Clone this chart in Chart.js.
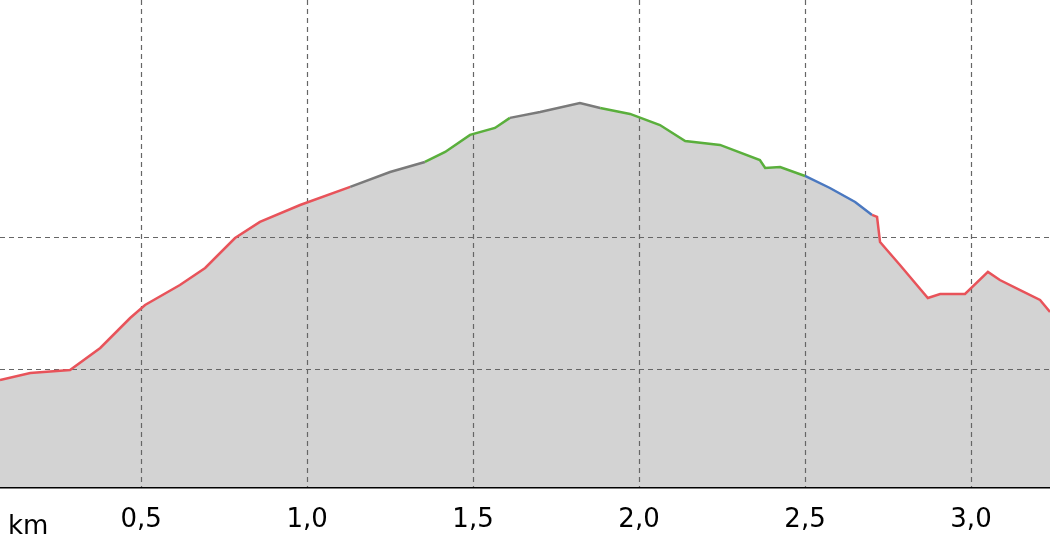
<!DOCTYPE html>
<html>
<head>
<meta charset="utf-8">
<script src="https://cdn.jsdelivr.net/npm/chart.js@4"></script>
<style>
  html, body { margin: 0; padding: 0; background: #fff; }
  #wrap { width: 1050px; height: 560px; }
</style>
</head>
<body>
<div id="wrap"><canvas id="chart"></canvas></div>
<script>
// distance (km) and elevation (relative units; grid lines at 10 and 20)
const distKm = [0.075, 0.166, 0.286, 0.377, 0.467, 0.512, 0.617, 0.693, 0.783, 0.858,
  0.979, 1.130, 1.250, 1.355, 1.416, 1.491, 1.566, 1.611, 1.702, 1.822,
  1.883, 1.973, 2.063, 2.139, 2.244, 2.364, 2.380, 2.425, 2.500, 2.575,
  2.651, 2.702, 2.717, 2.726, 2.786, 2.870, 2.907, 2.982, 3.051, 3.087,
  3.148, 3.208, 3.238];
const elev = [9.17, 9.70, 9.92, 11.59, 13.86, 14.85, 16.36, 17.65, 19.92, 21.14,
  22.42, 23.79, 24.92, 25.68, 26.44, 27.73, 28.26, 29.02, 29.47, 30.15,
  29.77, 29.32, 28.48, 27.27, 26.97, 25.83, 25.23, 25.30, 24.62, 23.71,
  22.65, 21.67, 21.52, 19.62, 17.88, 15.38, 15.68, 15.68, 17.35, 16.74,
  15.98, 15.23, 14.32];
// colour class of each segment (starting at point i): r=red, g=gray, n=green, b=blue
const segClass = "rrrrrrrrrrrggnnnngggnnnnnnnnbbbrrrrrrrrrrrr".split("");
const xTicks = [0.5, 1.0, 1.5, 2.0, 2.5, 3.0];
const yGrid = [10, 20];

const palette = { r: "#e8535a", g: "#7a7a7a", n: "#5aaf3c", b: "#4a78c0" };

const overlay = {
  id: "overlay",
  beforeDatasetDraw(chart, args) {
    if (args.index !== 1) return;
    const ctx = chart.ctx, a = chart.chartArea;
    const xs = chart.scales.x, ys = chart.scales.y;
    ctx.save();
    ctx.strokeStyle = "#666";
    ctx.lineWidth = 1.2;
    ctx.setLineDash([5, 4]);
    xTicks.forEach(v => {
      const px = Math.round(xs.getPixelForValue(v)) + 0.5;
      ctx.beginPath(); ctx.moveTo(px, a.top); ctx.lineTo(px, a.bottom); ctx.stroke();
    });
    yGrid.forEach(v => {
      const py = Math.round(ys.getPixelForValue(v)) + 0.5;
      ctx.beginPath(); ctx.moveTo(a.left, py); ctx.lineTo(a.right, py); ctx.stroke();
    });
    ctx.restore();
  },
  afterDraw(chart) {
    const ctx = chart.ctx;
    ctx.save();
    ctx.font = "26px 'DejaVu Sans'";
    ctx.fillStyle = "#000";
    ctx.textBaseline = "middle";
    ctx.fillText("km", 8, 527);
    ctx.restore();
  }
};

const points = distKm.map((d, i) => ({ x: d, y: elev[i] }));

new Chart(document.getElementById("chart"), {
  type: "line",
  data: {
    datasets: [{
      data: points,
      borderWidth: 0,
      pointRadius: 0,
      fill: "start",
      backgroundColor: "#d3d3d3",
      order: 2
    }, {
      data: points,
      borderWidth: 2.5,
      pointRadius: 0,
      fill: false,
      borderColor: palette.r,
      order: 1,
      segment: {
        borderColor: (c) => palette[segClass[c.p0DataIndex]] || palette.r
      }
    }]
  },
  options: {
    responsive: true,
    maintainAspectRatio: false,
    animation: false,
    layout: { padding: 0 },
    plugins: { legend: { display: false }, tooltip: { enabled: false } },
    scales: {
      x: {
        type: "linear",
        min: 0.075,
        max: 3.238,
        afterBuildTicks: (s) => { s.ticks = xTicks.map(v => ({ value: v })); },
        ticks: {
          font: { family: "DejaVu Sans", size: 26 },
          color: "#000",
          padding: 18,
          callback: (v) => v.toFixed(1).replace(".", ",")
        },
        grid: { display: false, drawTicks: false },
        border: { color: "#000", width: 2.5 },
        afterFit: (s) => { s.height = 73; }
      },
      y: {
        min: 1.06,
        max: 37.95,
        ticks: { display: false },
        grid: { display: false, drawTicks: false },
        border: { display: false },
        afterFit: (s) => { s.width = 0; }
      }
    }
  },
  plugins: [overlay]
});
</script>
</body>
</html>
